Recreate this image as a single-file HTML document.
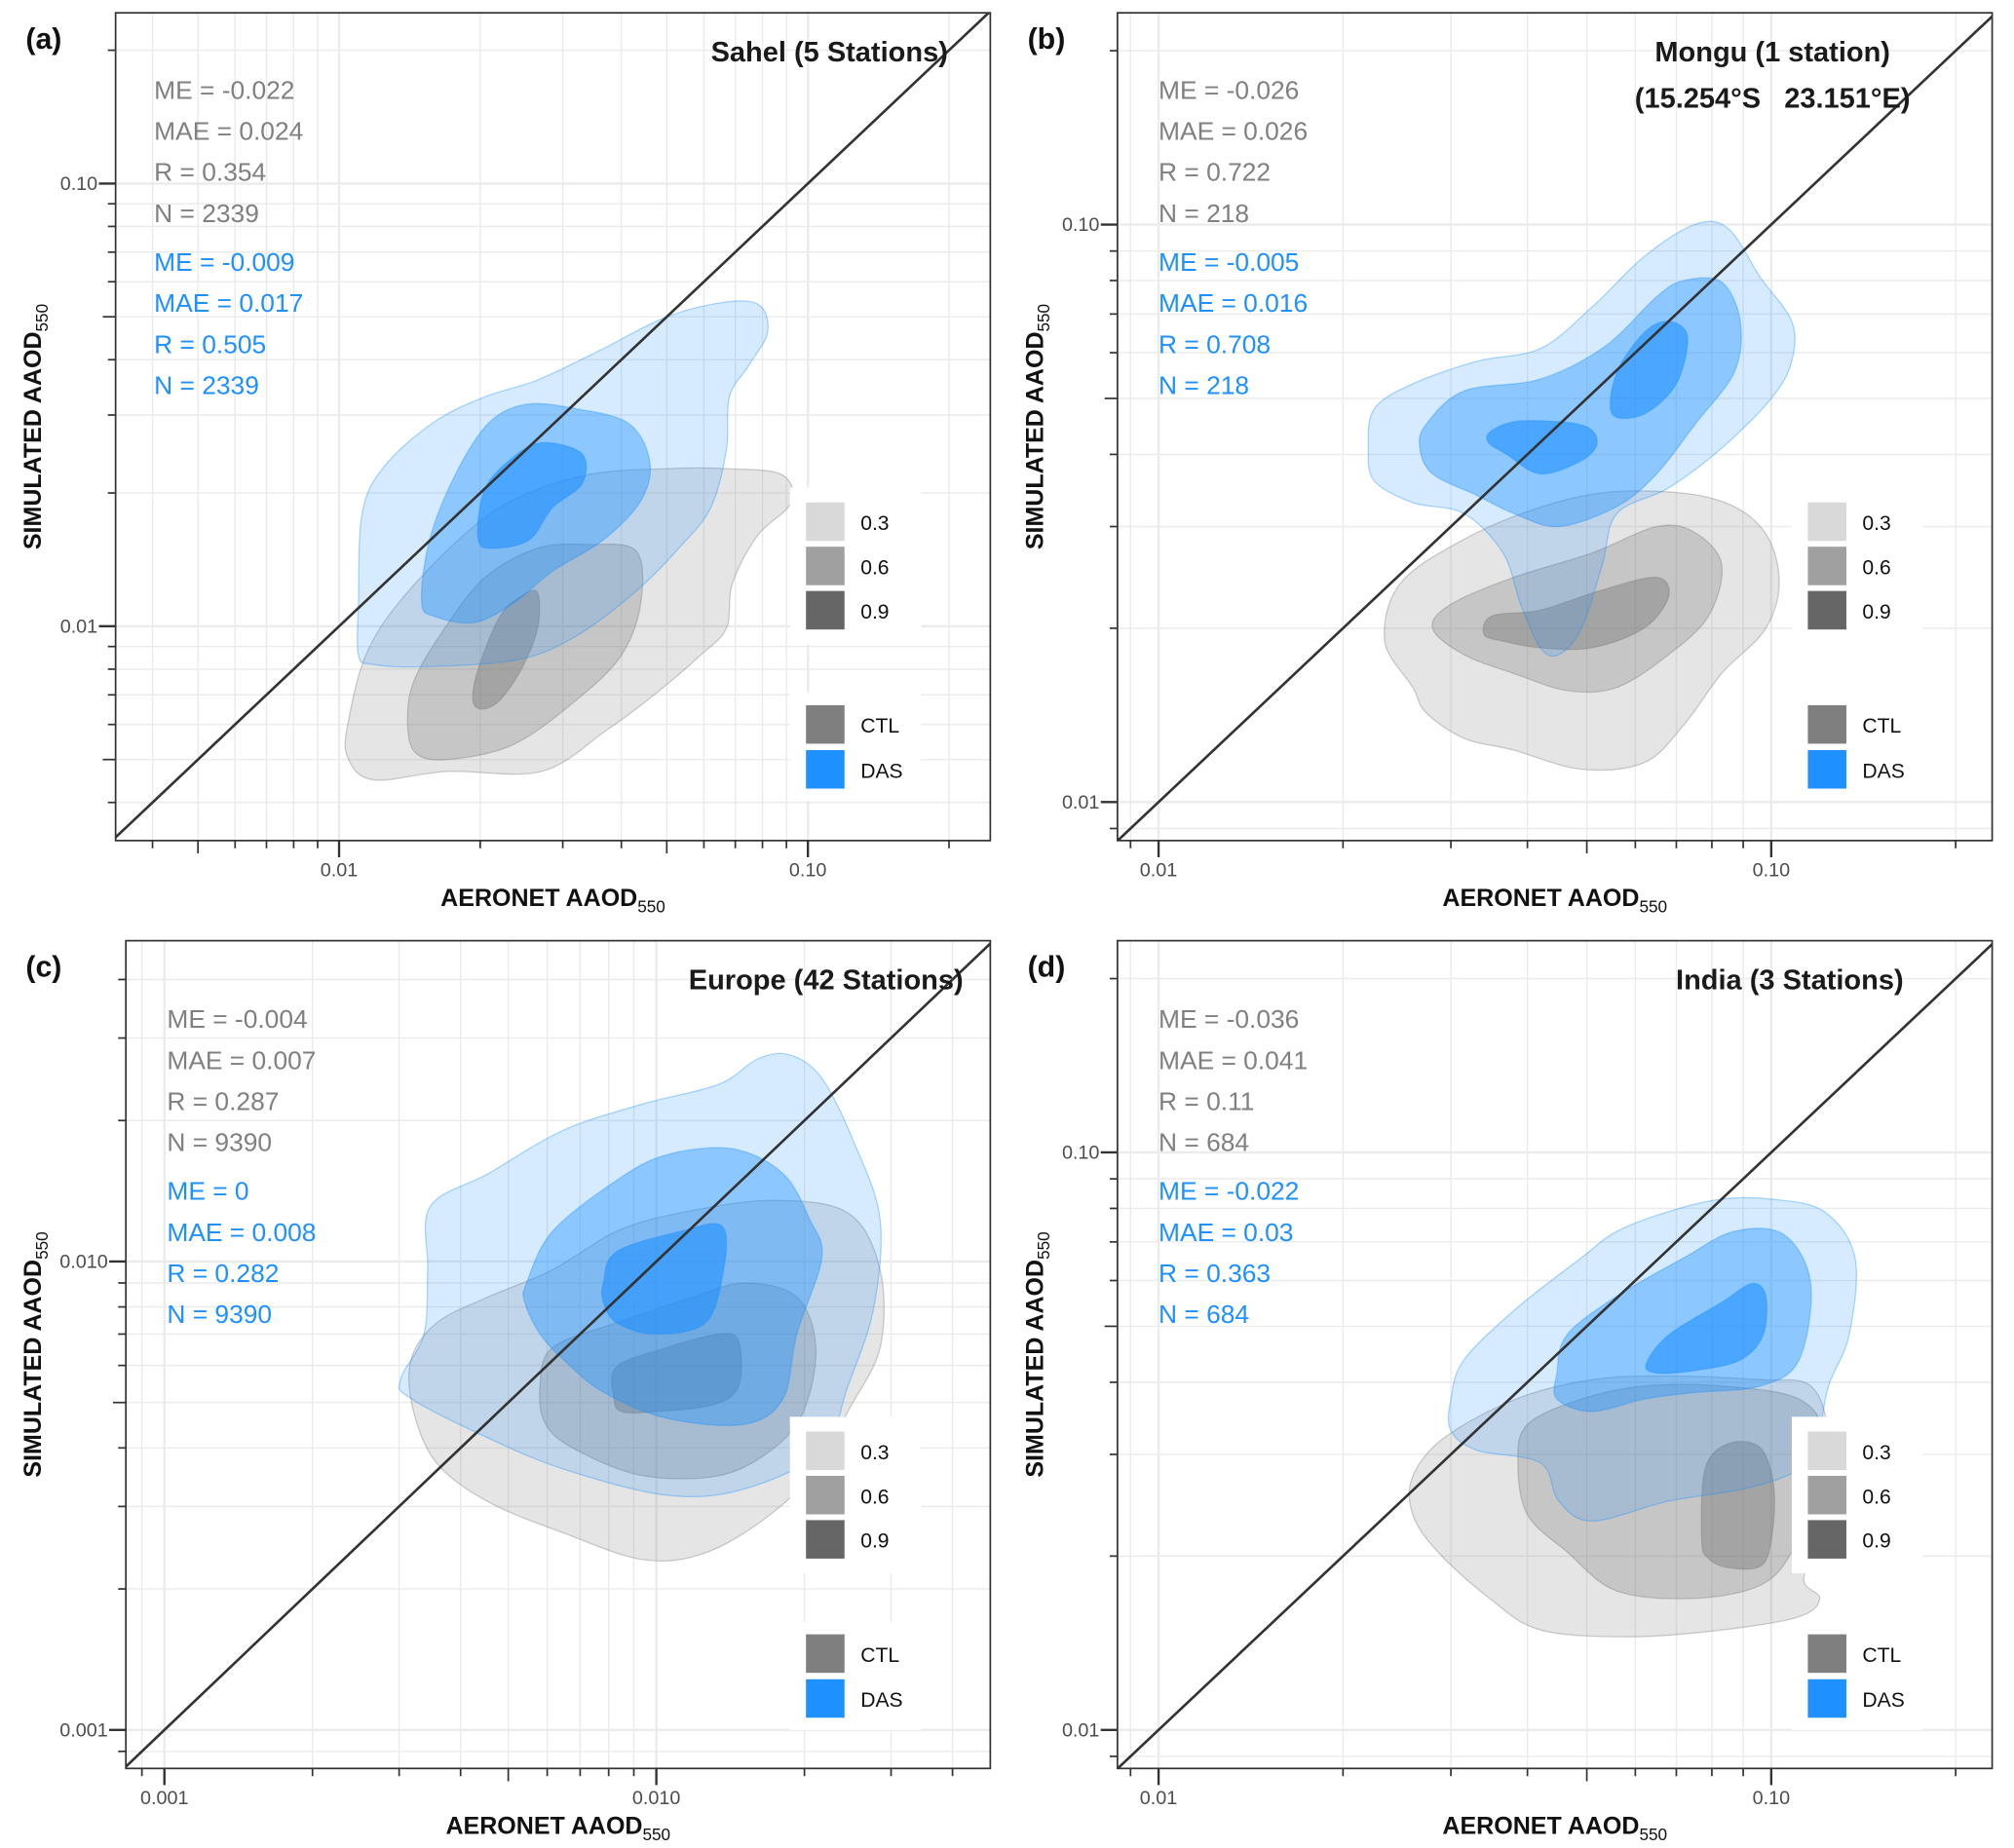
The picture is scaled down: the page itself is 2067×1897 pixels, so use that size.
<!DOCTYPE html>
<html><head><meta charset="utf-8"><style>
html,body{margin:0;padding:0;background:#fff;}
svg{display:block;font-family:"Liberation Sans",Arial,sans-serif;}
.pre{white-space:pre;}
</style></head><body>
<svg id="fig" width="2067" height="1897" viewBox="0 0 1568 1440" preserveAspectRatio="none" xmlns="http://www.w3.org/2000/svg"></svg>
<script>
// ---------- DATA (contour polygons as [AERONET, SIMULATED] AAOD pairs) ----------
const levels = ["0.3","0.6","0.9"];
const seriesNames = ["CTL","DAS"];
const xTickValsA = [0.01,0.1], xTickLabA = ["0.01","0.10"];
const yTickValsA = [0.01,0.1], yTickLabA = ["0.01","0.10"];
const xTickValsB = [0.01,0.1], xTickLabB = ["0.01","0.10"];
const yTickValsB = [0.01,0.1], yTickLabB = ["0.01","0.10"];
const xTickValsC = [0.001,0.01], xTickLabC = ["0.001","0.010"];
const yTickValsC = [0.001,0.01], yTickLabC = ["0.001","0.010"];
const xTickValsD = [0.01,0.1], xTickLabD = ["0.01","0.10"];
const yTickValsD = [0.01,0.1], yTickLabD = ["0.01","0.10"];
const statsCtlA = ["ME = -0.022","MAE = 0.024","R = 0.354","N = 2339"];
const statsDasA = ["ME = -0.009","MAE = 0.017","R = 0.505","N = 2339"];
const statsCtlB = ["ME = -0.026","MAE = 0.026","R = 0.722","N = 218"];
const statsDasB = ["ME = -0.005","MAE = 0.016","R = 0.708","N = 218"];
const statsCtlC = ["ME = -0.004","MAE = 0.007","R = 0.287","N = 9390"];
const statsDasC = ["ME = 0","MAE = 0.008","R = 0.282","N = 9390"];
const statsCtlD = ["ME = -0.036","MAE = 0.041","R = 0.11","N = 684"];
const statsDasD = ["ME = -0.022","MAE = 0.03","R = 0.363","N = 684"];

// Panel (a) Sahel
const ctlA3 = [[0.0104,0.0051],[0.0105,0.0062],[0.0114,0.0086],[0.0134,0.0113],[0.018,0.0157],[0.0235,0.0193],[0.034,0.022],[0.05,0.0227],[0.067,0.0227],[0.088,0.022],[0.092,0.019],[0.078,0.016],[0.069,0.0125],[0.067,0.0099],[0.059,0.0086],[0.047,0.007],[0.037,0.0058],[0.027,0.0047],[0.017,0.0047],[0.0118,0.0045]];
const ctlA6 = [[0.014,0.0062],[0.0145,0.0076],[0.0168,0.0099],[0.0205,0.0129],[0.0265,0.015],[0.034,0.0153],[0.043,0.0148],[0.044,0.0113],[0.040,0.0086],[0.032,0.0068],[0.0235,0.0054],[0.017,0.005],[0.0145,0.0052]];
const ctlA9 = [[0.0193,0.0068],[0.0198,0.008],[0.022,0.0105],[0.0245,0.0117],[0.0265,0.0119],[0.0265,0.0099],[0.0245,0.008],[0.022,0.0068],[0.0202,0.0065]];
const dasA3 = [[0.011,0.0086],[0.011,0.0113],[0.0112,0.018],[0.0125,0.023],[0.016,0.029],[0.0205,0.033],[0.0265,0.036],[0.036,0.042],[0.05,0.05],[0.067,0.054],[0.079,0.053],[0.082,0.046],[0.075,0.039],[0.068,0.033],[0.067,0.025],[0.062,0.0185],[0.053,0.015],[0.043,0.012],[0.032,0.0095],[0.024,0.0084],[0.015,0.0081],[0.0118,0.0082]];
const dasA6 = [[0.015,0.0113],[0.0156,0.0157],[0.0177,0.022],[0.0208,0.0287],[0.025,0.0317],[0.032,0.031],[0.0415,0.0287],[0.046,0.0235],[0.044,0.0192],[0.0367,0.0157],[0.0285,0.0133],[0.0236,0.0113],[0.0195,0.0102],[0.0161,0.0105]];
const dasA9 = [[0.0198,0.0157],[0.0205,0.0205],[0.024,0.0245],[0.0275,0.026],[0.033,0.0245],[0.033,0.021],[0.0285,0.0185],[0.0255,0.0157],[0.0215,0.015]];

// Panel (b) Mongu
const ctlB3 = [[0.0234,0.019],[0.0248,0.0239],[0.0315,0.0285],[0.042,0.0324],[0.056,0.0345],[0.079,0.0337],[0.096,0.030],[0.103,0.0245],[0.098,0.020],[0.083,0.0167],[0.072,0.0136],[0.062,0.0117],[0.049,0.0114],[0.038,0.0123],[0.0315,0.0129],[0.0273,0.0143],[0.026,0.0158]];
const ctlB6 = [[0.028,0.020],[0.030,0.022],[0.038,0.0245],[0.051,0.027],[0.065,0.030],[0.075,0.0293],[0.083,0.0258],[0.079,0.021],[0.068,0.018],[0.056,0.0158],[0.0465,0.0156],[0.038,0.0167],[0.0315,0.018]];
const ctlB9 = [[0.034,0.0195],[0.035,0.021],[0.042,0.0215],[0.053,0.0233],[0.065,0.0245],[0.068,0.0227],[0.062,0.020],[0.051,0.0185],[0.042,0.0185],[0.0365,0.019]];
const dasB3 = [[0.022,0.041],[0.0225,0.048],[0.026,0.053],[0.0331,0.058],[0.042,0.061],[0.051,0.072],[0.062,0.088],[0.075,0.100],[0.085,0.0985],[0.096,0.081],[0.108,0.068],[0.108,0.058],[0.100,0.050],[0.083,0.041],[0.068,0.035],[0.056,0.0316],[0.053,0.0258],[0.049,0.020],[0.045,0.018],[0.042,0.0185],[0.039,0.022],[0.0365,0.027],[0.0315,0.0316],[0.026,0.033],[0.0225,0.036]];
const dasB6 = [[0.0273,0.045],[0.0315,0.0515],[0.042,0.054],[0.0535,0.0615],[0.065,0.075],[0.072,0.080],[0.083,0.0795],[0.089,0.068],[0.087,0.0555],[0.075,0.045],[0.065,0.037],[0.056,0.0325],[0.045,0.030],[0.038,0.0316],[0.033,0.034],[0.028,0.037],[0.0267,0.041]];
const dasB9a = [[0.035,0.044],[0.039,0.0457],[0.049,0.045],[0.052,0.042],[0.049,0.039],[0.042,0.037],[0.037,0.040],[0.0345,0.042]];
const dasB9b = [[0.055,0.047],[0.056,0.0555],[0.062,0.065],[0.068,0.068],[0.073,0.064],[0.070,0.053],[0.062,0.047]];

// Panel (c) Europe
const ctlC3 = [[0.00317,0.00615],[0.00358,0.0074],[0.00455,0.0084],[0.00615,0.0096],[0.0083,0.0116],[0.0112,0.0127],[0.0171,0.0135],[0.0245,0.0127],[0.0285,0.0096],[0.0285,0.00655],[0.0245,0.00478],[0.0217,0.00371],[0.0171,0.00289],[0.0126,0.00239],[0.0094,0.00231],[0.0065,0.00263],[0.00455,0.00307],[0.00358,0.00371],[0.00321,0.00478]];
const ctlC6 = [[0.0058,0.00542],[0.00615,0.00655],[0.0083,0.0074],[0.0119,0.0084],[0.0151,0.009],[0.0193,0.0084],[0.0211,0.00655],[0.0199,0.00478],[0.0171,0.00395],[0.0134,0.00349],[0.0094,0.00349],[0.0069,0.00395],[0.00596,0.00449]];
const ctlC9 = [[0.0082,0.0051],[0.0083,0.00596],[0.0105,0.00655],[0.0134,0.007],[0.0147,0.00676],[0.0147,0.00542],[0.013,0.00494],[0.0099,0.00478],[0.0085,0.00478]];
const dasC3 = [[0.00347,0.0131],[0.00455,0.0154],[0.0065,0.0191],[0.0094,0.0217],[0.0134,0.0239],[0.0161,0.0271],[0.0187,0.0276],[0.0217,0.0246],[0.0252,0.018],[0.0285,0.0123],[0.0276,0.0079],[0.0245,0.00542],[0.0217,0.00395],[0.0151,0.00327],[0.0105,0.00317],[0.0065,0.0036],[0.00455,0.0042],[0.00317,0.0051],[0.00302,0.0056],[0.00337,0.007],[0.00343,0.0096]];
const dasC6 = [[0.00545,0.009],[0.00615,0.0116],[0.0083,0.0149],[0.0105,0.0169],[0.0143,0.0174],[0.0181,0.0154],[0.0205,0.0123],[0.0217,0.0102],[0.0193,0.007],[0.0181,0.0051],[0.0151,0.00449],[0.0105,0.00463],[0.0078,0.00526],[0.0065,0.00615],[0.0058,0.007],[0.0054,0.0082]];
const dasC9 = [[0.0078,0.009],[0.0083,0.0105],[0.0112,0.0116],[0.0136,0.0119],[0.0137,0.0096],[0.0126,0.0074],[0.0099,0.007],[0.0083,0.0074],[0.0078,0.0082]];

// Panel (d) India
const ctlD3 = [[0.026,0.0275],[0.0293,0.0321],[0.0383,0.0374],[0.051,0.0404],[0.068,0.041],[0.096,0.0404],[0.116,0.0394],[0.124,0.0321],[0.122,0.0224],[0.113,0.0183],[0.12,0.0169],[0.111,0.0157],[0.083,0.0149],[0.059,0.0145],[0.042,0.0149],[0.0347,0.0169],[0.0286,0.0203],[0.026,0.0236]];
const ctlD6 = [[0.0386,0.029],[0.040,0.0338],[0.049,0.0374],[0.062,0.0394],[0.083,0.0394],[0.111,0.0374],[0.122,0.0321],[0.116,0.0249],[0.108,0.0203],[0.096,0.0178],[0.075,0.0169],[0.056,0.0174],[0.0465,0.0203],[0.040,0.0236]];
const ctlD9 = [[0.077,0.0213],[0.078,0.0283],[0.085,0.0313],[0.096,0.0308],[0.101,0.0262],[0.100,0.0213],[0.096,0.0192],[0.085,0.0191],[0.079,0.0198]];
const dasD3 = [[0.030,0.0374],[0.0315,0.0437],[0.0383,0.0536],[0.049,0.0657],[0.056,0.073],[0.068,0.079],[0.083,0.083],[0.100,0.083],[0.122,0.079],[0.137,0.0657],[0.134,0.0483],[0.124,0.0394],[0.119,0.0321],[0.111,0.0283],[0.091,0.0262],[0.068,0.0249],[0.051,0.023],[0.045,0.0249],[0.042,0.029],[0.0331,0.0305],[0.030,0.033]];
const dasD6 = [[0.0447,0.0415],[0.0464,0.0483],[0.056,0.0564],[0.072,0.0657],[0.087,0.073],[0.105,0.072],[0.116,0.0593],[0.111,0.0437],[0.096,0.0394],[0.075,0.0384],[0.062,0.0374],[0.051,0.0356],[0.0447,0.0374]];
const dasD9 = [[0.0625,0.043],[0.068,0.0483],[0.083,0.055],[0.093,0.0593],[0.098,0.0564],[0.097,0.0483],[0.089,0.0437],[0.075,0.0419],[0.065,0.0415]];

// ---------- LAYOUT ----------
const NS="http://www.w3.org/2000/svg";
const svg=document.getElementById('fig');
function mk(tag,attrs,parent){const e=document.createElementNS(NS,tag);for(const k in attrs)e.setAttribute(k,attrs[k]);(parent||svg).appendChild(e);return e;}

const panels=[
 {id:'a',tag:'(a)',box:[90,771,10,655],xa:[264,-2,365],ya:[488,-2,345],xt:[xTickValsA,xTickLabA],yt:[yTickValsA,yTickLabA],
  ctl:[[ctlA3],[ctlA6],[ctlA9]],das:[[dasA3],[dasA6],[dasA9]],sc:statsCtlA,sd:statsDasA,sx:120,sy:70,
  title:["Sahel (5 Stations)"],tx:738,tanchor:'end',leg:[615,380]},
 {id:'b',tag:'(b)',box:[870,1551,10,655],xa:[902,-2,477],ya:[625,-2,450],xt:[xTickValsB,xTickLabB],yt:[yTickValsB,yTickLabB],
  ctl:[[ctlB3],[ctlB6],[ctlB9]],das:[[dasB3],[dasB6],[dasB9a,dasB9b]],sc:statsCtlB,sd:statsDasB,sx:902,sy:70,
  title:["Mongu (1 station)","(15.254°S   23.151°E)"],tx:1380,tanchor:'middle',leg:[1395,380]},
 {id:'c',tag:'(c)',box:[98,771,733,1378],xa:[128,-3,383],ya:[1348,-3,365],xt:[xTickValsC,xTickLabC],yt:[yTickValsC,yTickLabC],
  ctl:[[ctlC3],[ctlC6],[ctlC9]],das:[[dasC3],[dasC6],[dasC9]],sc:statsCtlC,sd:statsDasC,sx:130,sy:794,
  title:["Europe (42 Stations)"],tx:750,tanchor:'end',leg:[615,1104]},
 {id:'d',tag:'(d)',box:[870,1551,733,1378],xa:[902,-2,477],ya:[1348,-2,450],xt:[xTickValsD,xTickLabD],yt:[yTickValsD,yTickLabD],
  ctl:[[ctlD3],[ctlD6],[ctlD9]],das:[[dasD3],[dasD6],[dasD9]],sc:statsCtlD,sd:statsDasD,sx:902,sy:794,
  title:["India (3 Stations)"],tx:1482,tanchor:'end',leg:[1395,1104]}
];

function smoothPath(pts){
  const n=pts.length;let d='M'+pts[0][0].toFixed(1)+','+pts[0][1].toFixed(1);
  for(let i=0;i<n;i++){
    const p0=pts[(i-1+n)%n],p1=pts[i],p2=pts[(i+1)%n],p3=pts[(i+2)%n];
    const c1=[p1[0]+(p2[0]-p0[0])/6,p1[1]+(p2[1]-p0[1])/6];
    const c2=[p2[0]-(p3[0]-p1[0])/6,p2[1]-(p3[1]-p1[1])/6];
    d+=' C'+c1[0].toFixed(1)+','+c1[1].toFixed(1)+' '+c2[0].toFixed(1)+','+c2[1].toFixed(1)+' '+p2[0].toFixed(1)+','+p2[1].toFixed(1);
  }
  return d+'Z';
}

const ctlFill=['rgba(127,127,127,0.2)','rgba(127,127,127,0.3)','rgba(110,110,110,0.38)'];
const dasFill=['rgba(30,144,255,0.18)','rgba(30,144,255,0.40)','rgba(30,144,255,0.60)'];
const swatch=['#d9d9d9','#a0a0a0','#666666'];

panels.forEach(P=>{
  const [x0,x1,y0,y1]=P.box;
  const sx=v=>P.xa[0]+P.xa[2]*(Math.log10(v)-P.xa[1]);
  const sy=v=>P.ya[0]-P.ya[2]*(Math.log10(v)-P.ya[1]);
  const g=mk('g',{});
  
  
  mk('rect',{x:x0,y:y0,width:x1-x0,height:y1-y0,fill:'#fff'},g);
  const clipId='clip'+P.id;
  const cp=mk('clipPath',{id:clipId},g);mk('rect',{x:x0,y:y0,width:x1-x0,height:y1-y0},cp);
  const xlo=P.xa[1]+(x0-P.xa[0])/P.xa[2], xhi=P.xa[1]+(x1-P.xa[0])/P.xa[2];
  const ylo=P.ya[1]+(P.ya[0]-y1)/P.ya[2], yhi=P.ya[1]+(P.ya[0]-y0)/P.ya[2];
  const grid=mk('g',{stroke:'#ebebeb','stroke-width':1.2},g);
  
  const ticks=mk('g',{stroke:'#333','stroke-width':1.3},g);
  for(let d=Math.floor(xlo);d<=Math.ceil(xhi);d++)for(let k=1;k<10;k++){
    const v=k*Math.pow(10,d),L=Math.log10(v);if(L<xlo||L>xhi)continue;const px=sx(v);
    mk('line',{x1:px,x2:px,y1:y0,y2:y1,'stroke-width':k===1?1.8:1.1},grid);
    mk('line',{x1:px,x2:px,y1:y1,y2:y1+(k===1?13:(k===5?10:6)),'stroke-width':k===1?1.8:1.3},ticks);
  }
  for(let d=Math.floor(ylo);d<=Math.ceil(yhi);d++)for(let k=1;k<10;k++){
    const v=k*Math.pow(10,d),L=Math.log10(v);if(L<ylo||L>yhi)continue;const py=sy(v);
    mk('line',{x1:x0,x2:x1,y1:py,y2:py,'stroke-width':k===1?1.8:1.1},grid);
    mk('line',{x1:x0,x2:x0-(k===1?13:(k===5?10:6)),y1:py,y2:py,'stroke-width':k===1?1.8:1.3},ticks);
  }
  P.xt[0].forEach((v,i)=>{const t=mk('text',{x:sx(v),y:y1+28,'text-anchor':'middle','font-size':15,fill:'#4d4d4d'},g);t.textContent=P.xt[1][i];
    });
  P.yt[0].forEach((v,i)=>{const t=mk('text',{x:x0-14,y:sy(v)+5,'text-anchor':'end','font-size':15,fill:'#4d4d4d'},g);t.textContent=P.yt[1][i];
    });
  const cg=mk('g',{'clip-path':'url(#'+clipId+')'},g);
  [['ctl',P.ctl,ctlFill,'rgba(120,120,120,0.35)'],['das',P.das,dasFill,'rgba(30,144,255,0.35)']].forEach(([nm,set,fills,st])=>{
    set.forEach((polys,li)=>polys.forEach(poly=>{
      const pts=poly.map(p=>[sx(p[0]),sy(p[1])]);
      const pa=mk('path',{d:smoothPath(pts),fill:fills[li],stroke:st,'stroke-width':1},cg);
      
      
    }));
  });
  const lo=Math.pow(10,Math.min(xlo,ylo)-0.1),hi=Math.pow(10,Math.max(xhi,yhi)+0.1);
  const dl=mk('line',{x1:sx(lo),y1:sy(lo),x2:sx(hi),y2:sy(hi),stroke:'#333','stroke-width':2,'clip-path':'url(#'+clipId+')'},g);
  
  mk('rect',{x:x0,y:y0,width:x1-x0,height:y1-y0,fill:'none',stroke:'#333','stroke-width':1.3},g);
  const [lx,ly]=P.leg;
  const lg=mk('g',{},g);
  mk('rect',{x:lx,y:ly,width:102,height:122,fill:'#fff'},lg);
  mk('rect',{x:lx,y:ly+160,width:102,height:84,fill:'#fff'},lg);
  levels.forEach((L,i)=>{
    const r=mk('rect',{x:lx+12,y:ly+11+i*34.5,width:31,height:31,fill:swatch[i],stroke:'#fff','stroke-width':1},lg);
    
    const t=mk('text',{x:lx+55,y:ly+33+i*34.5,'font-size':16,fill:'#111'},lg);t.textContent=L;
  });
  seriesNames.forEach((s,i)=>{
    const r=mk('rect',{x:lx+12,y:ly+169+i*35,width:31,height:31,fill:i?'#1e90ff':'#7f7f7f',stroke:'#fff','stroke-width':1},lg);
    
    const t=mk('text',{x:lx+55,y:ly+191+i*35,'font-size':16,fill:'#111'},lg);t.textContent=s;
  });
  P.sc.forEach((s,i)=>{const t=mk('text',{x:P.sx,y:P.sy+7+i*32,'font-size':20,fill:'#808080'},g);t.textContent=s;
    });
  P.sd.forEach((s,i)=>{const t=mk('text',{x:P.sx,y:P.sy+141+i*32,'font-size':20,fill:'#1e90ff'},g);t.textContent=s;
    });
  P.title.forEach((s,i)=>{const t=mk('text',{x:P.tx,y:y0+38+i*36,'text-anchor':P.tanchor,'font-size':22,'font-weight':'bold',fill:'#1a1a1a','class':'pre'},g);
    t.textContent=s;
    });
  const tg=mk('text',{x:x0-70+(P.id==='c'?-8:0),y:y0+28,'font-size':23,'font-weight':'bold',fill:'#111'},g);tg.textContent=P.tag;
  
  const xt=mk('text',{x:(x0+x1)/2,y:y1+51,'text-anchor':'middle','font-size':19,'font-weight':'bold',fill:'#111'},g);
  
  xt.appendChild(document.createTextNode('AERONET AAOD'));
  const s1=mk('tspan',{'font-size':13,'font-weight':'normal',dy:5},xt);s1.textContent='550';
  const ycx=(P.id==='a'||P.id==='c')?32:812, ycy=(y0+y1)/2;
  const yt=mk('text',{x:ycx,y:ycy,'text-anchor':'middle','font-size':19,'font-weight':'bold',fill:'#111',transform:'rotate(-90 '+ycx+' '+ycy+')'},g);
  
  yt.appendChild(document.createTextNode('SIMULATED AAOD'));
  const s2=mk('tspan',{'font-size':13,'font-weight':'normal',dy:5},yt);s2.textContent='550';
});
</script>
</body></html>
